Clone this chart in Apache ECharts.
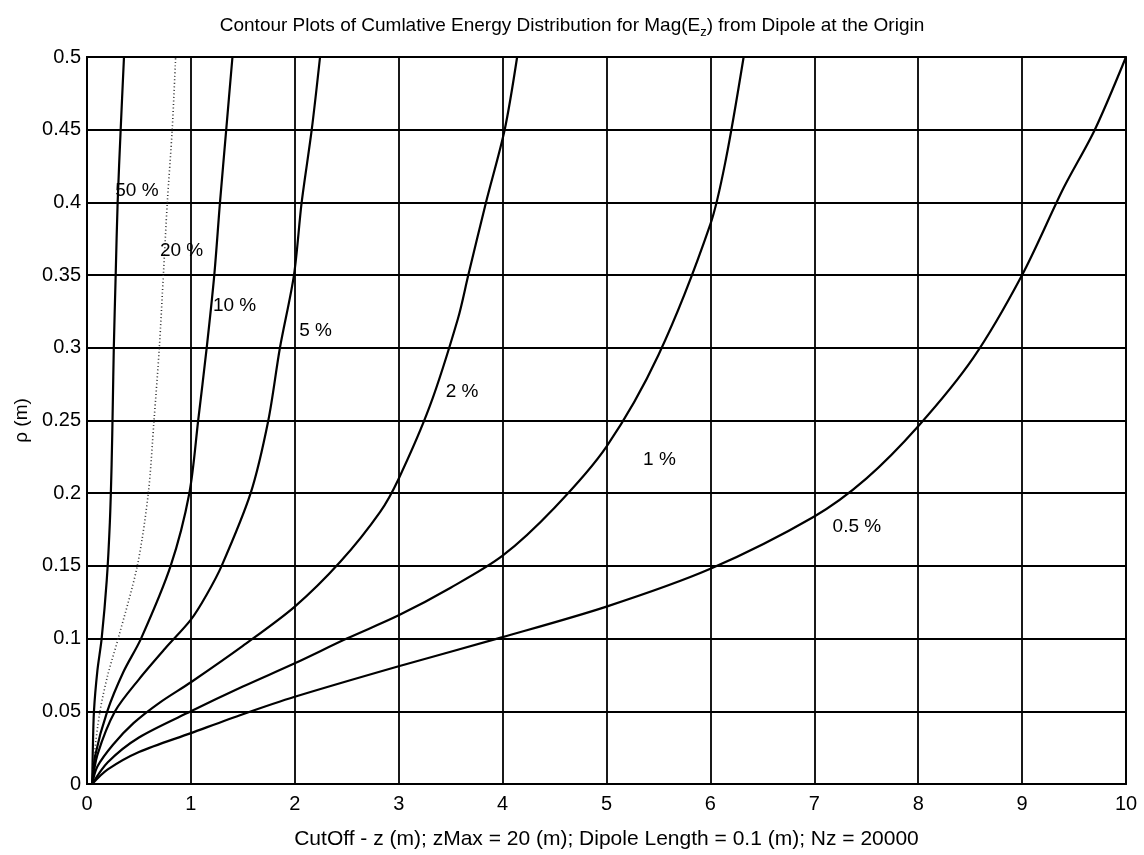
<!DOCTYPE html>
<html>
<head>
<meta charset="utf-8">
<script src="https://cdn.jsdelivr.net/npm/echarts@6/dist/echarts.min.js"></script>
<style>html,body{margin:0;padding:0;background:#fff}#c{width:1144px;height:855px}</style>
</head>
<body>
<div id="c"></div>
<script>
// Contour curves: [z (m), rho (m)]
const curve50 = [[0.05,0],[0.055,0.02],[0.067,0.05],[0.1,0.078],[0.141,0.1],[0.19,0.14],[0.22,0.18],[0.237,0.22],[0.248,0.26],[0.258,0.3],[0.276,0.35],[0.295,0.4],[0.324,0.45],[0.356,0.5]];
const curve20 = [[0.05,0],[0.07,0.02],[0.125,0.05],[0.2,0.075],[0.3,0.1],[0.484,0.15],[0.59,0.2],[0.645,0.25],[0.696,0.3],[0.735,0.35],[0.773,0.4],[0.82,0.45],[0.853,0.5]];
const curve10 = [[0.05,0],[0.08,0.02],[0.195,0.05],[0.35,0.077],[0.52,0.1],[0.805,0.15],[0.985,0.2],[1.07,0.25],[1.152,0.3],[1.225,0.35],[1.28,0.4],[1.34,0.45],[1.4,0.5]];
const curve5 = [[0.05,0],[0.1,0.02],[0.27,0.05],[0.5,0.072],[0.75,0.093],[1.0,0.113],[1.15,0.13],[1.296,0.15],[1.575,0.2],[1.745,0.25],[1.857,0.3],[1.992,0.35],[2.066,0.4],[2.163,0.45],[2.243,0.5]];
const curve2 = [[0.05,0],[0.1,0.012],[0.25,0.027],[0.45,0.042],[0.7,0.056],[1.0,0.07],[1.5,0.095],[2.0,0.122],[2.44,0.153],[2.82,0.187],[3.0,0.21],[3.3,0.26],[3.57,0.32],[3.67,0.35],[3.84,0.4],[4.02,0.45],[4.14,0.5]];
const curve1 = [[0.05,0],[0.2,0.015],[0.5,0.032],[1.0,0.05],[1.5,0.067],[2.0,0.083],[2.5,0.1],[3.0,0.116],[3.5,0.135],[4.0,0.157],[4.5,0.19],[5.0,0.232],[5.5,0.295],[6.0,0.385],[6.15,0.43],[6.32,0.5]];
const curve05 = [[0.05,0],[0.2,0.01],[0.5,0.022],[1.0,0.035],[1.5,0.048],[2.0,0.06],[3.0,0.081],[4.0,0.101],[5.0,0.122],[6.0,0.148],[7.0,0.184],[7.5,0.21],[8.0,0.246],[8.53,0.293],[9.0,0.35],[9.4,0.41],[9.7,0.45],[10.0,0.5]];
// Contour labels: [z, rho, text]
const contourLabels = [[0.48,0.408,'50 %'],[0.91,0.367,'20 %'],[1.42,0.329,'10 %'],[2.2,0.312,'5 %'],[3.61,0.27,'2 %'],[5.51,0.223,'1 %'],[7.41,0.177,'0.5 %']];
const xTicks = [0,1,2,3,4,5,6,7,8,9,10];
const yTicks = ['0','0.05','0.1','0.15','0.2','0.25','0.3','0.35','0.4','0.45','0.5'];

const font = '"Liberation Sans", Arial, sans-serif';
function solid(data){return {type:'line',data:data,symbol:'none',smooth:0.3,silent:true,lineStyle:{color:'#000',width:2.2},z:3};}
const s20 = {type:'line',data:curve20,symbol:'none',smooth:0.3,silent:true,lineStyle:{color:'#333',width:1.6,type:[1,2.5]},z:3};

const chart = echarts.init(document.getElementById('c'));
chart.setOption({
  backgroundColor:'#fff',
  animation:false,
  title:{
    text:'{a|Contour Plots of Cumlative Energy Distribution for Mag(E}{s|z}{a|) from Dipole at the Origin}',
    left:'center', top:10,
    textStyle:{fontWeight:'normal',rich:{
      a:{fontFamily:font,fontSize:19,fontWeight:'normal',color:'#000',lineHeight:22},
      s:{fontFamily:font,fontSize:13,fontWeight:'normal',color:'#000',lineHeight:13,padding:[12,0,0,0]}
    }}
  },
  grid:{left:87,right:18,top:57,bottom:66,show:true,borderColor:'#000',borderWidth:1.8,backgroundColor:'transparent'},
  xAxis:{
    type:'value',min:0,max:10,interval:1,
    name:'CutOff - z (m); zMax = 20 (m); Dipole Length = 0.1 (m); Nz = 20000',
    nameLocation:'middle',nameGap:45,
    nameTextStyle:{fontFamily:font,fontSize:21,color:'#000'},
    axisLine:{show:true,lineStyle:{color:'#000',width:1.8}},
    axisTick:{show:false},
    axisLabel:{fontFamily:font,fontSize:20,color:'#000',margin:10,formatter:v=>String(xTicks[Math.round(v)])},
    splitLine:{show:true,lineStyle:{color:'#000',width:1.8}}
  },
  yAxis:{
    type:'value',min:0,max:0.5,interval:0.05,
    name:'ρ (m)',nameLocation:'middle',nameGap:56,
    nameTextStyle:{fontFamily:font,fontSize:19,color:'#000'},
    axisLine:{show:true,lineStyle:{color:'#000',width:1.8}},
    axisTick:{show:false},
    axisLabel:{fontFamily:font,fontSize:20,color:'#000',margin:6,formatter:v=>yTicks[Math.round(v/0.05)]},
    splitLine:{show:true,lineStyle:{color:'#000',width:1.8}}
  },
  series:[
    solid(curve50), s20, solid(curve10), solid(curve5), solid(curve2), solid(curve1), solid(curve05),
    {type:'scatter',symbolSize:0,silent:true,z:5,itemStyle:{opacity:1,color:'#000'},
     data:contourLabels.map(d=>({value:[d[0],d[1]],name:d[2]})),
     label:{show:true,position:'inside',formatter:p=>p.name,fontFamily:font,fontSize:19,color:'#000',opacity:1}}
  ]
});
</script>
</body>
</html>
